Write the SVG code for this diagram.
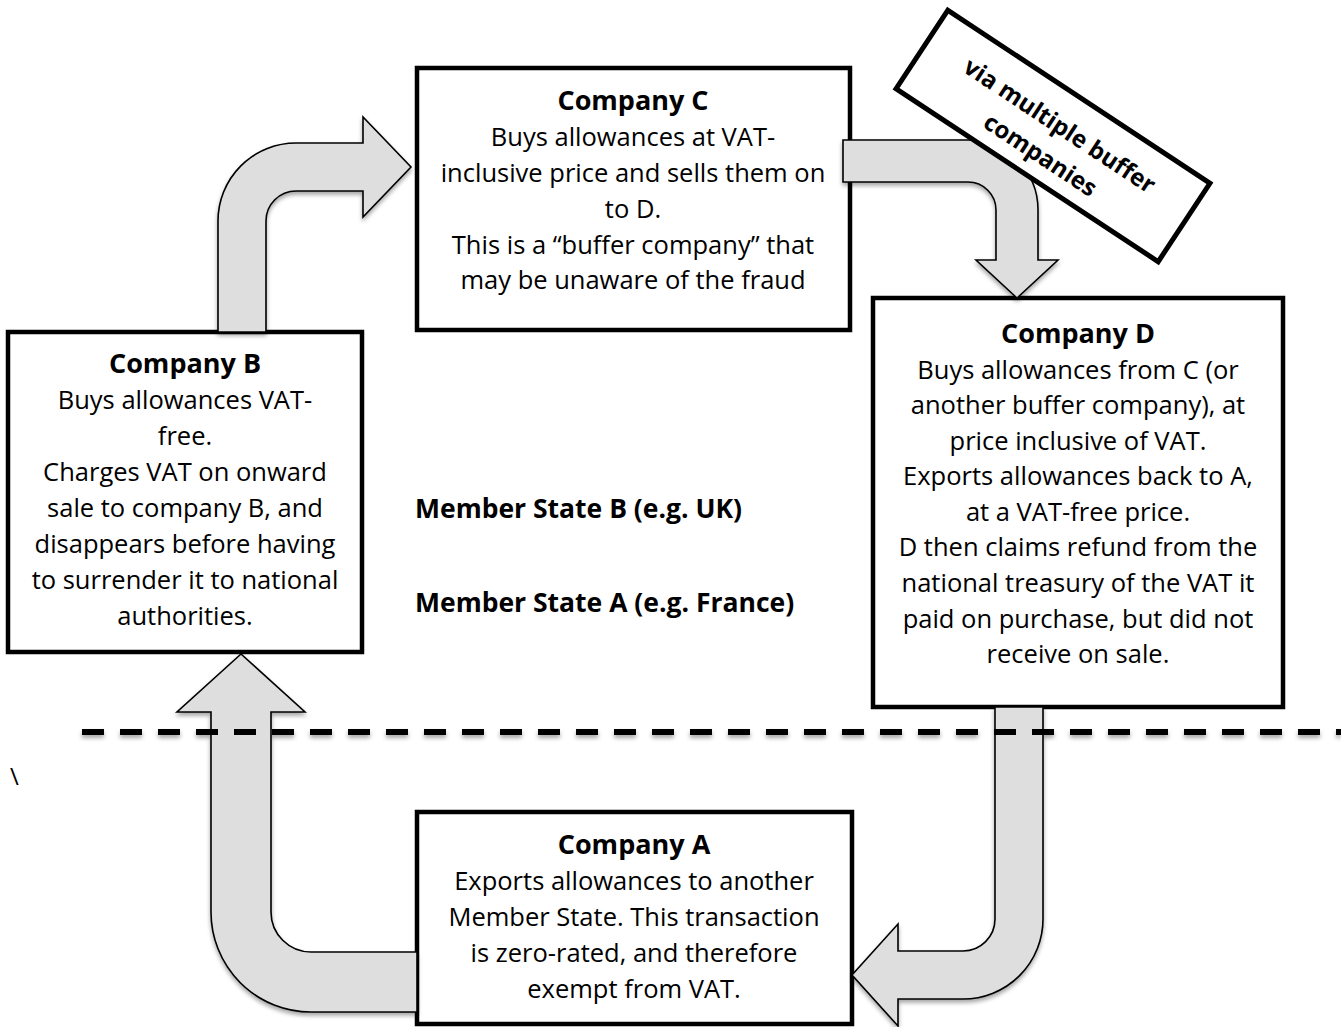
<svg xmlns="http://www.w3.org/2000/svg" width="1341" height="1027" viewBox="0 0 1341 1027">
<style>
.box{fill:#fff;stroke:#000;stroke-width:4.5}
.arr{fill:#dedede;stroke:#000;stroke-width:1.6;stroke-linejoin:miter}
.t{font-family:"Open Sans",Lato,sans-serif;font-size:25.5px;fill:#000;text-anchor:middle}
.b{font-weight:bold;font-size:27px}
.ms{font-family:"Open Sans",Lato,sans-serif;font-size:26.5px;font-weight:bold;fill:#000}
</style>
<defs>
<filter id="sh" x="-10%" y="-10%" width="120%" height="130%">
<feDropShadow dx="0" dy="3" stdDeviation="2" flood-color="#000" flood-opacity="0.35"/>
</filter>
</defs>
<g id="nodeC">
<rect class="box" x="417" y="68" width="433" height="262"/>
<text class="t"><tspan class="b" x="633" y="110">Company C</tspan><tspan x="633" y="146">Buys allowances at VAT-</tspan><tspan x="633" y="182">inclusive price and sells them on</tspan><tspan x="633" y="218">to D.</tspan><tspan x="633" y="254">This is a “buffer company” that</tspan><tspan x="633" y="289">may be unaware of the fraud</tspan></text>
</g>
<g id="nodeB">
<rect class="box" x="8" y="332" width="354" height="320"/>
<text class="t"><tspan class="b" x="185" y="373">Company B</tspan><tspan x="185" y="409">Buys allowances VAT-</tspan><tspan x="185" y="445">free.</tspan><tspan x="185" y="481">Charges VAT on onward</tspan><tspan x="185" y="517">sale to company B, and</tspan><tspan x="185" y="553">disappears before having</tspan><tspan x="185" y="589">to surrender it to national</tspan><tspan x="185" y="625">authorities.</tspan></text>
</g>
<g id="nodeD">
<rect class="box" x="873" y="298" width="410" height="409"/>
<text class="t"><tspan class="b" x="1078" y="343">Company D</tspan><tspan x="1078" y="379">Buys allowances from C (or</tspan><tspan x="1078" y="414">another buffer company), at</tspan><tspan x="1078" y="450">price inclusive of VAT.</tspan><tspan x="1078" y="485">Exports allowances back to A,</tspan><tspan x="1078" y="521">at a VAT-free price.</tspan><tspan x="1078" y="556">D then claims refund from the</tspan><tspan x="1078" y="592">national treasury of the VAT it</tspan><tspan x="1078" y="628">paid on purchase, but did not</tspan><tspan x="1078" y="663">receive on sale.</tspan></text>
</g>
<g id="nodeA">
<rect class="box" x="417" y="812" width="435" height="212"/>
<text class="t"><tspan class="b" x="634" y="854">Company A</tspan><tspan x="634" y="890">Exports allowances to another</tspan><tspan x="634" y="926">Member State. This transaction</tspan><tspan x="634" y="962">is zero-rated, and therefore</tspan><tspan x="634" y="998">exempt from VAT.</tspan></text>
</g>
<g id="labels">
<text class="ms" x="415" y="518">Member State B (e.g. UK)</text>
<text class="ms" x="415" y="612">Member State A (e.g. France)</text>
<text x="10" y="785" style="font-family:'Open Sans',Lato,sans-serif;font-size:24px">\</text>
</g>
<g id="connectors" filter="url(#sh)">
<path class="arr" d="M218,332 L218,221 A78,78 0 0 1 296,143 L363,143 L363,117 L411,167 L363,217 L363,191 L296,191 A30,30 0 0 0 266,221 L266,332 Z"/>
<path class="arr" d="M843,140 L968,140 A70,70 0 0 1 1038,210 L1038,260 L1058,260 L1017,298 L976,260 L996,260 L996,210 A28,28 0 0 0 968,182 L843,182 Z"/>
<path class="arr" d="M995,707 L1043,707 L1043,919 A80,80 0 0 1 963,999 L898,999 L898,1026 L852,975 L898,924 L898,951 L963,951 A32,32 0 0 0 995,919 Z"/>
<path class="arr" d="M417,952 L311,952 A40,40 0 0 1 271,912 L271,712 L305,712 L241,654 L177,712 L211,712 L211,912 A100,100 0 0 0 311,1012 L417,1012 Z"/>
<line x1="82" y1="732" x2="1341" y2="732" stroke="#000" stroke-width="6" stroke-dasharray="22 16"/>
</g>
<g id="nodeVia" transform="translate(1053,136) rotate(33.4)">
<rect x="-157" y="-47" width="314" height="94" fill="#fff" stroke="#000" stroke-width="5"/>
<text class="t b" style="font-size:24px"><tspan x="0" y="-4">via multiple buffer</tspan><tspan x="0" y="31">companies</tspan></text>
</g>
</svg>
